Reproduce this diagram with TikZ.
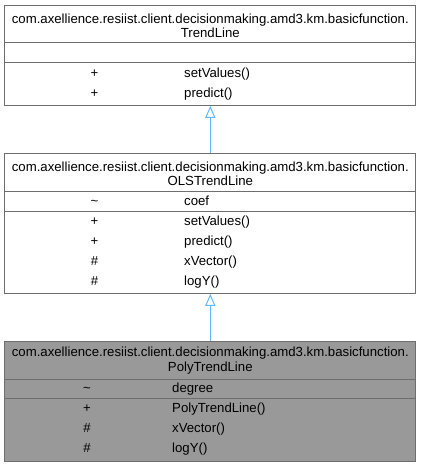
\documentclass[tikz,border=0pt]{standalone}
\usepackage{fontspec}
\setmainfont{Liberation Sans}
\usetikzlibrary{positioning,arrows.meta}
\definecolor{garisabu}{HTML}{6E6E6E}
\definecolor{isiabu}{HTML}{999999}
\definecolor{panahbiru}{HTML}{63B8FF}
\tikzset{
	kelas/.style={draw=garisabu, line width=1pt, minimum width=410.7pt, inner sep=0pt},
	sekat/.style={draw=garisabu, line width=1pt},
	judul/.style={align=center, inner sep=0pt, font=\fontsize{13.2}{14.3}\selectfont},
	simbol/.style={anchor=base, inner sep=0pt, font=\fontsize{13.2}{14.3}\selectfont},
	anggota/.style={anchor=base west, inner sep=0pt, font=\fontsize{13.2}{14.3}\selectfont},
	warisan/.style={draw=panahbiru, line width=1pt, -{Triangle[open, width=10pt, length=12pt]}}
}

\begin{document}
\begin{tikzpicture}[x=1pt, y=-1pt]
		\useasboundingbox (0,0) rectangle (421,467);
		% kelas induk
		\node[kelas, minimum height=100.3pt] (trend) at (210.3,55.15) {};
		\draw[sekat] (trend.west |- 0,42.7) -- (trend.east |- 0,42.7);
		\draw[sekat] (trend.west |- 0,62.7) -- (trend.east |- 0,62.7);
		\node[judul] (trend-j) at (210.3,25.5) {com.axellience.resiist.client.decisionmaking.amd3.km.basicfunction.\\TrendLine};
		\node[simbol] (trend-s1) at (94.5,77.2) {+};
		\node[anggota] (trend-m1) at (184,77.2) {setValues()};
		\node[simbol] (trend-s2) at (94.5,97.2) {+};
		\node[anggota] (trend-m2) at (184,97.2) {predict()};
		% kelas tengah
		\node[kelas, minimum height=140pt] (ols) at (210.3,223.3) {};
		\draw[sekat] (ols.west |- 0,191.7) -- (ols.east |- 0,191.7);
		\draw[sekat] (ols.west |- 0,211) -- (ols.east |- 0,211);
		\node[judul] (ols-j) at (210.3,173.7) {com.axellience.resiist.client.decisionmaking.amd3.km.basicfunction.\\OLSTrendLine};
		\node[simbol] (ols-s0) at (94.5,205.2) {\char`\~};
		\node[anggota] (ols-a1) at (184,205.2) {coef};
		\node[simbol] (ols-s1) at (94.5,225.5) {+};
		\node[anggota] (ols-m1) at (184,225.5) {setValues()};
		\node[simbol] (ols-s2) at (94.5,245.5) {+};
		\node[anggota] (ols-m2) at (184,245.5) {predict()};
		\node[simbol] (ols-s3) at (94.5,265.5) {\#};
		\node[anggota] (ols-m3) at (184,265.5) {xVector()};
		\node[simbol] (ols-s4) at (94.5,285.5) {\#};
		\node[anggota] (ols-m4) at (184,285.5) {logY()};
		% kelas anak
		\node[kelas, fill=isiabu, minimum height=120pt] (poly) at (210.3,401) {};
		\draw[sekat] (poly.west |- 0,379) -- (poly.east |- 0,379);
		\draw[sekat] (poly.west |- 0,398.3) -- (poly.east |- 0,398.3);
		\node[judul] (poly-j) at (210.3,360.5) {com.axellience.resiist.client.decisionmaking.amd3.km.basicfunction.\\PolyTrendLine};
		\node[simbol] (poly-s0) at (87,392.8) {\char`\~};
		\node[anggota] (poly-a1) at (172,392.8) {degree};
		\node[simbol] (poly-s1) at (87,412.8) {+};
		\node[anggota] (poly-m1) at (172,412.8) {PolyTrendLine()};
		\node[simbol] (poly-s2) at (87,432.8) {\#};
		\node[anggota] (poly-m2) at (172,432.8) {xVector()};
		\node[simbol] (poly-s3) at (87,452.8) {\#};
		\node[anggota] (poly-m3) at (172,452.8) {logY()};
		% pewarisan
		\draw[warisan] (ols.north) -- (trend.south);
		\draw[warisan] (poly.north) -- (ols.south);
	\end{tikzpicture}
\end{document}
